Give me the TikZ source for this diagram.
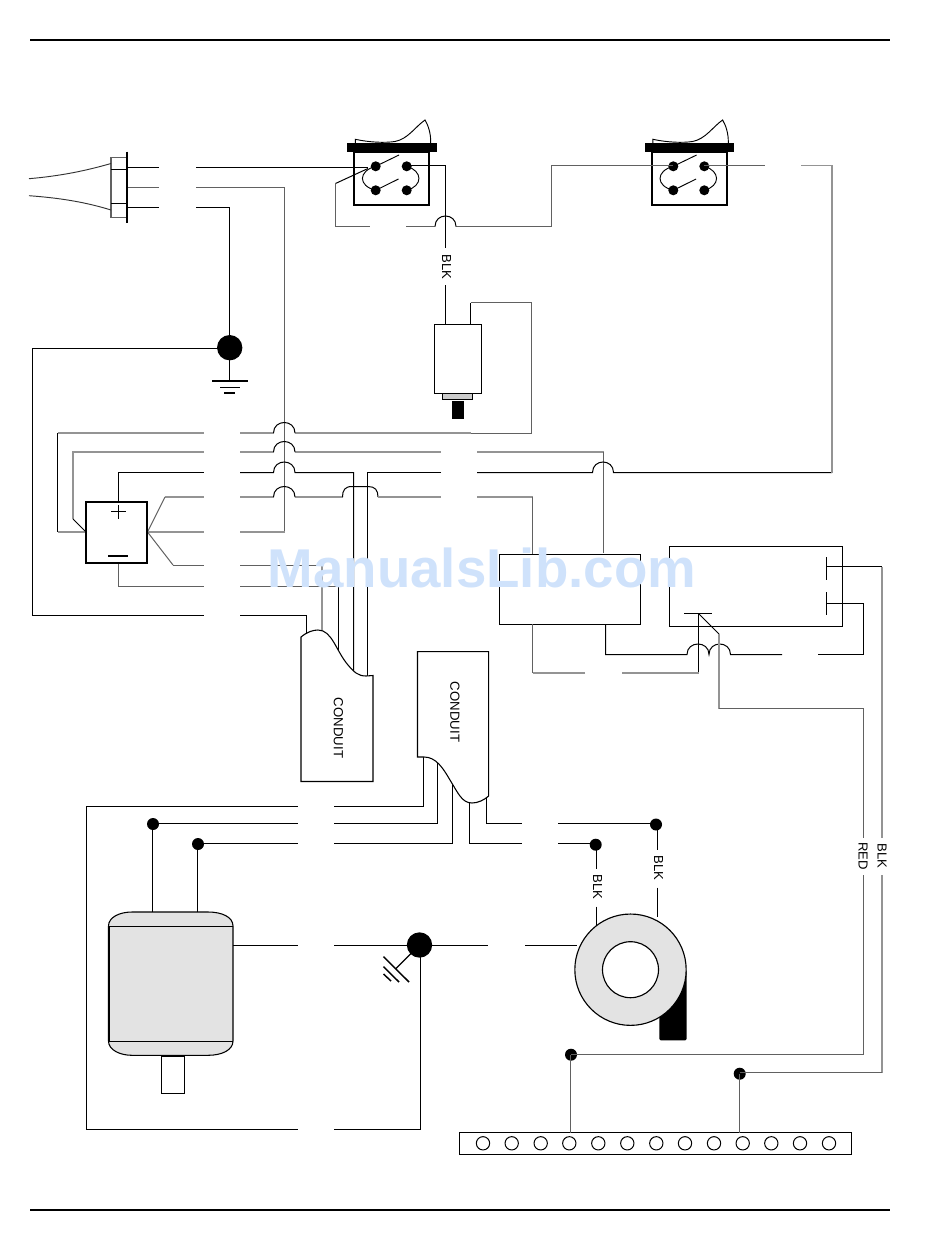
\documentclass[tikz,border=0pt]{standalone}
\usepackage{fontspec}
\setmainfont{Liberation Sans}
\newcommand{\hop}[3]{-- (#1,#3) .. controls (#1,{#3-14}) and (#2,{#3-14}) .. (#2,#3)}
\newcommand{\hopdark}[3]{\draw[wire] (#1,#3) .. controls (#1,{#3-14}) and (#2,{#3-14}) .. (#2,#3);}
\newcommand{\rockersw}[2]{%
 \begin{scope}[shift={(#2,0)}]
  \node[swbox,minimum width=56.5pt,minimum height=39.9pt] (#1box) at (391.7,178.4) {};
  \node[solid,minimum width=67pt,minimum height=6.3pt] (#1bar) at (392,147.5) {};
  \draw[thinline] (355.3,143.3) -- (355.3,139.3) .. controls (370,142.5) and (385,143) .. (395,141.5) .. controls (408,139) and (415,127) .. (425,120) .. controls (428,125) and (431,133) .. (430.7,143.3);
  \node[sdot] (#1a) at (375.7,166.3) {};
  \node[sdot] (#1b) at (406.7,166.3) {};
  \node[sdot] (#1c) at (375.7,190.3) {};
  \node[sdot] (#1d) at (406.7,190.3) {};
  \coordinate (#1e) at (399,155);
  \coordinate (#1f) at (398.5,179);
  \draw[thinline] (#1a.center) -- (#1e);
  \draw[thinline] (#1c.center) -- (#1f);
  \draw[thinline] (#1a.center) .. controls (358,171) and (358,186) .. (#1c.center);
  \draw[thinline] (#1b.center) .. controls (423,171) and (423,186) .. (#1d.center);
 \end{scope}}
\definecolor{markblue}{HTML}{CFE2FB}
\tikzset{
 x=0.75pt,y=-0.75pt,
 wire/.style={line width=0.75pt,black},
 wireg/.style={line width=0.75pt,black!62},
 wiret/.style={line width=1.1pt,black!42},
 thinline/.style={line width=0.7pt,black},
 swbox/.style={draw=black,line width=1.5pt,inner sep=0,outer sep=0},
 thinbox/.style={draw=black,line width=0.8pt,inner sep=0,outer sep=0},
 solid/.style={fill=black,draw=none,inner sep=0,outer sep=0},
 sdot/.style={circle,fill=black,draw=none,inner sep=0,outer sep=0,minimum size=7.5pt},
 mdot/.style={circle,fill=black,draw=none,inner sep=0,outer sep=0,minimum size=9pt},
 bdot/.style={circle,fill=black,draw=none,inner sep=0,outer sep=0,minimum size=19pt},
 hole/.style={circle,draw=black,fill=white,line width=0.75pt,inner sep=0,outer sep=0,minimum size=10pt},
 wlabel/.style={rotate=-90,font=\fontsize{9.8pt}{10pt}\selectfont,inner sep=0,text=black},
 rule/.style={line width=1.5pt,black},
}
\begin{document}
\begin{tikzpicture}
\useasboundingbox (0,0) rectangle (950,1248);
% page rules
\coordinate (ruleTL) at (30,40); \coordinate (ruleTR) at (890,40);
\coordinate (ruleBL) at (30,1210); \coordinate (ruleBR) at (890,1210);
\draw[rule] (ruleTL) -- (ruleTR);
\draw[rule] (ruleBL) -- (ruleBR);

% gap ends
\coordinate (gA1) at (159,167.5); \coordinate (gA2) at (196,167.5);
\coordinate (gB1) at (159,187.5); \coordinate (gB2) at (196,187.5);
\coordinate (gC1) at (159,207.5); \coordinate (gC2) at (196,207.5);
\coordinate (gD1) at (203.5,433); \coordinate (gD2) at (240,433);
\coordinate (gE1) at (203.5,452); \coordinate (gE2) at (240,452);
\coordinate (gF1) at (203.5,472.5); \coordinate (gF2) at (240,472.5);
\coordinate (gG1) at (203.5,497); \coordinate (gG2) at (240,497);
\coordinate (gH1) at (203.5,532); \coordinate (gH2) at (240,532);
\coordinate (gI1) at (203.5,565); \coordinate (gI2) at (240,565);
\coordinate (gJ1) at (203.5,586); \coordinate (gJ2) at (240,586);
\coordinate (gK1) at (203.5,615.5); \coordinate (gK2) at (240,615.5);
\coordinate (gM1) at (441,452); \coordinate (gM2) at (477,452);
\coordinate (gN1) at (441,472.5); \coordinate (gN2) at (477,472.5);
\coordinate (gO1) at (441,497); \coordinate (gO2) at (477,497);
\coordinate (gP1) at (369.5,226.5); \coordinate (gP2) at (406,226.5);
\coordinate (gQ1) at (765,165.5); \coordinate (gQ2) at (801,165.5);
\coordinate (gR1) at (585,673); \coordinate (gR2) at (622,673);
\coordinate (gS1) at (782,654.5); \coordinate (gS2) at (818,654.5);
\coordinate (gT1) at (297.5,806.5); \coordinate (gT2) at (334,806.5);
\coordinate (gU1) at (297.5,823.5); \coordinate (gU2) at (334,823.5);
\coordinate (gV1) at (297.5,843.5); \coordinate (gV2) at (334,843.5);
\coordinate (gW1) at (297.5,945.5); \coordinate (gW2) at (334,945.5);
\coordinate (gX1) at (297.5,1129.5); \coordinate (gX2) at (334,1129.5);
\coordinate (gY1) at (521.5,823.5); \coordinate (gY2) at (558,823.5);
\coordinate (gZ1) at (521.5,843.5); \coordinate (gZ2) at (558,843.5);
\coordinate (gAA1) at (488,945.5); \coordinate (gAA2) at (525,945.5);

% nodes that carry wires
\node[bdot] (junc1) at (229.7,347.7) {};
\node[bdot] (junc2) at (419.5,945) {};
\node[mdot] (mdot1) at (153,824) {};
\node[mdot] (mdot2) at (198,844) {};
\node[mdot] (fdot1) at (595.7,844.7) {};
\node[mdot] (fdot2) at (656,824.5) {};
\node[mdot] (sdot1) at (571,1054.7) {};
\node[mdot] (sdot2) at (739.7,1073.7) {};
\coordinate (junc1w) at (229.5,348.5);
\coordinate (mdot1v) at (152.5,824);
\coordinate (mdot2v) at (197.5,844);
\coordinate (fdot1v) at (596.5,845);
\coordinate (fdot2v) at (657.5,825);
\coordinate (sdot1v) at (570.5,1055);
\coordinate (sdot2v) at (739.5,1074);

% mains wires from plug
\coordinate (plugA) at (127,167.5); \coordinate (plugB) at (127,187.5); \coordinate (plugC) at (127,207.5);
\draw[wire] (plugA) -- (gA1);
\draw[wireg] (plugB) -- (gB1);
\draw[wire] (plugC) -- (gC1);
\draw[wire] (gA2) -- (368,167.5);
\draw[wireg] (gB2) -- (284.5,187.5) -- (284.5,532);
\draw[wiret] (284.5,532) -- (gH2);
\draw[wire] (gC2) -- (229.5,207.5) -- (junc1w);
% ground left loop
\draw[wire] (junc1w) -- (32.5,348.5) -- (32.5,615.5) -- (gK1);
\draw[wire] (gK2) -- (306.5,615.5) -- (306.5,640);

% cable bundle left side
\draw[wiret] (gD1) -- (57.5,433);
\draw[wire] (57.5,433) -- (57.5,532);
\draw[wiret] (57.5,532) -- (86,532);
\draw[wiret] (gE1) -- (73,452) -- (73,519);
\draw[wire] (73,519) -- (86,532);
\draw[wire] (gF1) -- (118.5,472.5) -- (118.5,502);
\draw[wiret] (gG1) -- (165,497);
\draw[wireg] (165,497) -- (147.5,532);
\draw[wiret] (147.5,532) -- (gH1);
\draw[wireg] (147.5,532) -- (173,565);
\draw[wireg] (173,565) -- (gI1);
\draw[wireg] (118.5,563) -- (118.5,586) -- (gJ1);

% bundle right side
\draw[wiret] (gD2) -- (273.5,433) (295,433) -- (471,433);
\draw[wireg] (471,433) -- (531.5,433) -- (531.5,302.5) -- (470.5,302.5);
\draw[wire] (470.5,302.5) -- (470.5,324);
\hopdark{273.5}{295}{433}
\draw[wiret] (gE2) -- (273.5,452) (295,452) -- (gM1);
\hopdark{273.5}{295}{452}
\draw[wiret] (gM2) -- (603.5,452);
\draw[wireg] (603.5,452) -- (603.5,553);
\draw[wire] (gF2) \hop{273.5}{295}{472.5} -- (353.5,472.5) -- (353.5,675);
\draw[wiret] (gG2) -- (273.5,497) (295,497) -- (342.5,497);
\hopdark{273.5}{295}{497}
\draw[wire] (342.5,497) .. controls (342.5,490) and (345,486.5) .. (352,486.5) -- (368,486.5) .. controls (375,486.5) and (378,490) .. (378,497);
\draw[wiret] (378,497) -- (gO1);
\draw[wiret] (gO2) -- (532.5,497);
\draw[wireg] (532.5,497) -- (532.5,554);
\draw[wire] (gN1) -- (367.5,472.5) -- (367.5,680);
\draw[wire] (gN2) \hop{592.5}{613.5}{472.5} -- (832,472.5);
\draw[wiret] (832,472.5) -- (832,165.5);
\draw[wiret] (832,165.5) -- (gQ2);
\draw[wireg] (gI2) -- (322,565);
\draw[wiret] (322,565) -- (322,635);
\draw[wireg] (gJ2) -- (338.5,586);
\draw[wire] (338.5,586) -- (338.5,655);

% switch wiring
\rockersw{swa}{0}
\rockersw{swb}{297.6}
\coordinate (swabw) at (406.7,165.5);
\coordinate (swbaw) at (673.3,165.5);
\coordinate (swbbw) at (704.3,165.5);
\draw[wire] (swabw) -- (445.5,165.5) -- (445.5,248);
\coordinate (blk1b) at (445.5,285);
\draw[wire] (blk1b) -- (445.5,324);
\node[wlabel] (blk1) at (446.5,266.7) {BLK};
\draw[wire] (368,168.5) -- (335.5,183.5);
\draw[wireg] (335.5,183.5) -- (335.5,226.5) -- (gP1);
\draw[wireg] (gP2) -- (435,226.5) (456,226.5) -- (551,226.5) -- (551,165.5) -- (swbaw);
\hopdark{435}{456}{226.5}
\draw[wireg] (swbbw) -- (gQ1);

% cylinder
\node[draw=black,line width=.7pt,fill=white,inner sep=0,outer sep=0,minimum width=35.25pt,minimum height=51.75pt] (solenoid) at (458,359) {};
\node[draw=black,line width=.75pt,fill=black!20,inner sep=0,outer sep=0,minimum width=23pt,minimum height=5.2pt] (solcap) at (457.5,396.5) {};
\node[solid,minimum width=9pt,minimum height=14pt] (solpin) at (458,410) {};

% ground below junc1
\coordinate (gr1) at (229.7,381);
\draw[wire,line width=1pt] (junc1.center) -- (gr1);
\draw[wire,line width=1.3pt] (212,381) -- (248,381);
\draw[wire,line width=1.3pt] (220,387.5) -- (240,387.5);
\draw[wire,line width=1.3pt] (224,393) -- (235,393);

% plug
\draw[wireg,line width=0.9pt] (127,157.7) -- (111,157.7) -- (111,217.7) -- (127,217.7);
\draw[wire] (111,170) -- (127,170);
\draw[wire] (111,203.5) -- (127,203.5);
\draw[line width=1.5pt] (127,151.7) -- (127,223.3);
\draw[line width=0.7pt,black!80] (29,178.7) .. controls (60,176) and (85,171) .. (111,163.5);
\draw[line width=0.7pt,black!80] (29,195.7) .. controls (60,198) and (85,202) .. (111,210);

% polar box
\node[swbox,fill=white,minimum width=46pt,minimum height=45.5pt] (rect) at (116.5,532.3) {};
\draw[wire] (111,511.5) -- (126,511.5);
\draw[wire] (118.5,505) -- (118.5,518.5);
\draw[wire,line width=1pt] (108,556) -- (128,556);

% conduits
\draw[thinbox,fill=white] (301,781.5) -- (301,637) .. controls (307,632) and (313,630) .. (318,630) .. controls (332,630) and (336,651) .. (348,665) .. controls (354,672) and (358,676) .. (366,676) -- (373,675.5) -- (373,781.5) -- cycle;
\node[wlabel,font=\fontsize{9.9pt}{10pt}\selectfont] (cond1) at (338.5,728) {CONDUIT};
% lower wires out of second conduit
\draw[wire] (423.5,757) -- (423.5,806.5) -- (gT2);
\draw[wire] (gT1) -- (86.5,806.5) -- (86.5,1129.5) -- (gX1);
\draw[wire] (gX2) -- (420.5,1129.5) -- (420.5,945);
\draw[wire] (437.5,760) -- (437.5,823.5) -- (gU2);
\draw[wire] (gU1) -- (gU1 -| mdot1.center);
\draw[wire] (452.5,785) -- (452.5,843.5) -- (gV2);
\draw[wire] (gV1) -- (gV1 -| mdot2.center);
\draw[wire] (469.5,800) -- (469.5,843.5) -- (gZ1);
\draw[wire] (gZ2) -- (gZ2 -| fdot1.center);
\draw[wire] (486.5,795) -- (486.5,823.5) -- (gY1);
\draw[wire] (gY2) -- (gY2 -| fdot2.center);
\draw[thinbox,fill=white] (417.5,651.7) -- (488.7,651.7) -- (488.7,796) .. controls (484,800) and (478,803) .. (472,803) .. controls (462,803) and (458,793) .. (450,780) .. controls (443,768) and (436,757) .. (424,757) -- (417.5,757) -- cycle;
\node[wlabel,font=\fontsize{9.9pt}{10pt}\selectfont] (cond2) at (455,712) {CONDUIT};

% motor
\draw[wire] (mdot1v) -- (152.5,912);
\draw[wire] (mdot2v) -- (197.5,912);
\draw[thinbox,fill=black!11] (108.5,926) .. controls (108.5,917) and (120,912) .. (132,912) -- (208,912) .. controls (222,912) and (233,917) .. (233,926) -- (233,1041) .. controls (233,1050) and (222,1055.3) .. (208,1055.3) -- (132,1055.3) .. controls (120,1055.3) and (108.5,1050) .. (108.5,1041) -- cycle;
\draw[wire] (108.5,926.3) -- (233,926.3);
\draw[wire] (108.5,1041.5) -- (233,1041.5);
\draw[line width=1.2pt] (109,926) -- (109,1041);
\node[draw=black,line width=.75pt,fill=white,inner sep=0,outer sep=0,minimum width=17.2pt,minimum height=27.8pt] (shaft) at (173,1075) {};
\draw[wire] (233,945.5) -- (gW1);
\draw[wire] (gW2) -- (gAA1);
\draw[wire] (gAA2) -- (577,945.5);

% chassis ground
\coordinate (gr2) at (396,968.5);
\draw[wire,line width=1pt] (junc2.center) -- (gr2);
\draw[wire,line width=1.1pt] (383.5,956.7) -- (409,982);
\draw[wire,line width=1.1pt] (383.5,966.7) -- (399,982);
\draw[wire,line width=1.1pt] (383.5,974) -- (391,981);

% blower
\node[solid,rounded corners=1pt,minimum width=20.4pt,minimum height=53pt] (volute) at (673,1005) {};
\node[circle,draw=black,line width=0.85pt,fill=black!11,inner sep=0,outer sep=0,minimum size=83.5pt] (fan) at (630.5,969.7) {};
\node[circle,draw=black,line width=0.85pt,fill=white,inner sep=0,outer sep=0,minimum size=42pt] (fanhub) at (630.5,969.7) {};
\draw[wire] (fdot1v) -- (596.5,869);
\draw[wire] (596.5,906.5) -- (596.5,925);
\node[wlabel] (blk2) at (597.5,887) {BLK};
\draw[wire] (fdot2v) -- (657.5,850);
\draw[wire] (657.5,887.5) -- (657.5,917);
\node[wlabel] (blk3) at (658.5,868) {BLK};

% relay boxes
\node[thinbox,minimum width=106pt,minimum height=52.5pt] (relayA) at (570,589.3) {};
\node[thinbox,minimum width=130pt,minimum height=60pt] (relayB) at (756,586.3) {};
\draw[line width=1pt] (826.7,557) -- (826.7,580);
\draw[line width=1pt] (826.7,592) -- (826.7,615);
\draw[line width=1pt] (684,613.5) -- (711.5,613.5);
\draw[wire] (826.7,566.5) -- (882,566.5);
\draw[wiret] (882,566.5) -- (882,838);
\draw[wiret] (882,875) -- (882,1072.5);
\draw[wireg] (882,1072.5) -- (739.5,1072.5);
\node[wlabel] (blk4) at (882,856) {BLK};
\draw[wire] (826.7,603.5) -- (863.5,603.5) -- (863.5,654.5) -- (gS2);
\draw[wire] (gS1) \hop{730.5}{709}{654.5} \hop{709}{687}{654.5} -- (605.5,654.5) -- (605.5,624.3);
\draw[wire] (698.5,613.5) -- (698.5,673);
\draw[wiret] (698.5,673) -- (gR2);
\draw[wiret] (gR1) -- (532.5,673);
\draw[wireg] (532.5,673) -- (532.5,624.3);
\draw[thinline] (698.5,613.5) -- (719,634);
\draw[wiret] (719,634) -- (719,708.5);
\draw[wireg] (719,708.5) -- (863.5,708.5) -- (863.5,838);
\draw[wireg] (863.5,875) -- (863.5,1054.5) -- (570.5,1054.5);
\node[wlabel] (red) at (863,856) {RED};

% terminal strip
\node[thinbox,minimum width=294pt,minimum height=16.2pt] (strip) at (655.7,1143.5) {};
\draw[wireg] (sdot1v) -- (570.5,1132.7);
\draw[wireg] (sdot2v) -- (739.5,1132.7);
\foreach \n/\xx in {a/483,b/511.7,c/540.7,d/569.3,e/598.3,f/627.3,g/656.3,h/685,i/714,j/742.7,k/771.3,l/800,m/829}
  \node[hole] (hole\n) at (\xx,1143.3) {};

% watermark
\node[inner sep=0,text=markblue,font=\fontsize{41pt}{42pt}\selectfont\bfseries] (mark) at (482,567.5) {ManualsLib.com};
\end{tikzpicture}
\end{document}
